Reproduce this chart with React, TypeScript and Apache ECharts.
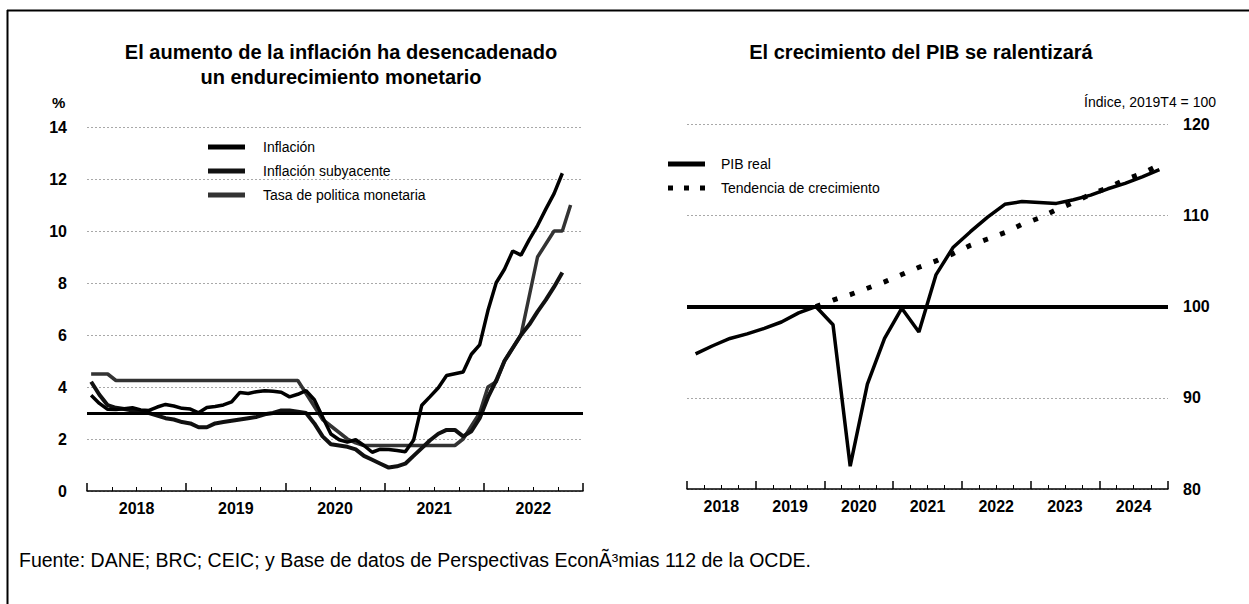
import React, { useEffect, useRef } from 'react';
import * as echarts from 'echarts';

// ---------- Data ----------
const yearsLeft = ['2018', '2019', '2020', '2021', '2022'];
const yearsRight = ['2018', '2019', '2020', '2021', '2022', '2023', '2024'];

// Monthly, from Jan 2018
const inflacion = [
  3.68, 3.37, 3.14, 3.13, 3.16, 3.2, 3.12, 3.1, 3.23, 3.33, 3.27, 3.18,
  3.15, 3.01, 3.21, 3.25, 3.31, 3.43, 3.79, 3.75, 3.82, 3.86, 3.84, 3.8,
  3.62, 3.72, 3.86, 3.51, 2.85, 2.19, 1.97, 1.88, 1.97, 1.75, 1.49, 1.61,
  1.6, 1.56, 1.51, 1.95, 3.3, 3.63, 3.97, 4.44, 4.51, 4.58, 5.26, 5.62,
  6.94, 8.01, 8.53, 9.23, 9.07, 9.67, 10.21, 10.84, 11.44, 12.22,
];
const subyacente = [
  4.2, 3.7, 3.3, 3.2, 3.15, 3.1, 3.05, 3.0, 2.9, 2.8, 2.75, 2.65,
  2.6, 2.45, 2.45, 2.6, 2.65, 2.7, 2.75, 2.8, 2.85, 2.95, 3.0, 3.1,
  3.1, 3.05, 3.0, 2.6, 2.1, 1.8, 1.75, 1.7, 1.6, 1.35, 1.2, 1.05,
  0.9, 0.95, 1.05, 1.35, 1.65, 1.95, 2.2, 2.35, 2.35, 2.1, 2.3, 2.8,
  3.6, 4.25, 5.0, 5.5, 6.0, 6.4, 6.9, 7.35, 7.85, 8.4,
];
const tasaPolitica = [
  4.5, 4.5, 4.5, 4.25, 4.25, 4.25, 4.25, 4.25, 4.25, 4.25, 4.25, 4.25,
  4.25, 4.25, 4.25, 4.25, 4.25, 4.25, 4.25, 4.25, 4.25, 4.25, 4.25, 4.25,
  4.25, 4.25, 3.75, 3.25, 2.75, 2.5, 2.25, 2.0, 1.85, 1.75, 1.75, 1.75,
  1.75, 1.75, 1.75, 1.75, 1.75, 1.75, 1.75, 1.75, 1.75, 2.0, 2.5, 3.0,
  4.0, 4.2, 5.0, 5.5, 6.0, 7.5, 9.0, 9.5, 10.0, 10.0, 11.0,
];
const metaInflacion = 3;

// Quarterly, from 2018T1
const pibReal = [
  94.8, 95.7, 96.5, 97.0,
  97.6, 98.3, 99.3, 100.0,
  98.0, 82.5, 91.5, 96.5,
  99.8, 97.2, 103.5, 106.5,
  108.2, 109.8, 111.2, 111.5,
  111.4, 111.3, 111.7, 112.2,
  112.9, 113.5, 114.2, 115.0,
];
// Quarterly, from 2019T4
const tendenciaStartQuarter = 7;
const tendencia = [
  100.0, 100.7, 101.3, 102.0, 102.7, 103.5, 104.3, 105.0, 105.8, 106.7,
  107.4, 108.1, 109.0, 109.7, 110.6, 111.4, 112.3, 113.0, 113.9, 114.6, 115.5,
];
const base100 = 100;

const FONT = "'Liberation Sans', Arial, Helvetica, sans-serif";
const DOTS_ICON = 'path://M0,0h5v5h-5z M16,0h5v5h-5z M32,0h5v5h-5z';

export default function App() {
  const ref = useRef<HTMLDivElement>(null);

  useEffect(() => {
    if (!ref.current) return;
    const chart = echarts.init(ref.current, undefined, { renderer: 'svg' });

    const monthly = (vals: number[]) => vals.map((v, i) => [i + 0.5, v]);
    const quarterly = (vals: number[], start = 0) => vals.map((v, i) => [i + start + 0.5, v]);

    const axisLabelStyle = {
      color: '#000',
      fontSize: 16,
      fontWeight: 'bold' as const,
      fontFamily: FONT,
    };
    const gridLine = { show: true, lineStyle: { color: '#a8a8a8', type: [2, 2] as any, width: 1 } };

    const option: any = {
      animation: false,
      backgroundColor: '#fff',
      title: [
        {
          text: 'El aumento de la inflación ha desencadenado\nun endurecimiento monetario',
          left: 336,
          top: 34,
          textAlign: 'center',
          textStyle: { fontSize: 20, fontWeight: 'bold', color: '#000', fontFamily: FONT, lineHeight: 25 },
        },
        {
          text: 'El crecimiento del PIB se ralentizará',
          left: 916,
          top: 34,
          textAlign: 'center',
          textStyle: { fontSize: 20, fontWeight: 'bold', color: '#000', fontFamily: FONT, lineHeight: 25 },
        },
        {
          text: 'Fuente: DANE; BRC; CEIC; y Base de datos de Perspectivas EconÃ³mias 112 de la OCDE.',
          left: 14,
          top: 545,
          textStyle: { fontSize: 19.5, fontWeight: 'normal', color: '#000', fontFamily: FONT },
        },
      ],
      legend: [
        {
          data: [
            { name: 'Inflación', icon: 'rect' },
            { name: 'Inflación subyacente', icon: 'rect' },
            { name: 'Tasa de politica monetaria', icon: 'rect' },
          ],
          orient: 'vertical',
          left: 203,
          top: 135,
          itemWidth: 37,
          itemHeight: 5,
          itemGap: 10,
          textStyle: { fontSize: 14, color: '#000', fontFamily: FONT, padding: [0, 0, 0, 13] },
        },
        {
          data: [
            { name: 'PIB real', icon: 'rect' },
            { name: 'Tendencia de crecimiento', icon: DOTS_ICON },
          ],
          orient: 'vertical',
          left: 663,
          top: 152,
          itemWidth: 37,
          itemHeight: 5,
          itemGap: 10,
          textStyle: { fontSize: 14, color: '#000', fontFamily: FONT, padding: [0, 0, 0, 11] },
        },
      ],
      grid: [
        { left: 87, top: 127, width: 496, height: 364 },
        { left: 687, top: 124, width: 481, height: 365 },
      ],
      xAxis: [
        {
          type: 'value',
          gridIndex: 0,
          min: 0,
          max: yearsLeft.length * 12,
          interval: 12,
          axisLine: { show: true, lineStyle: { color: '#000', width: 1.5 } },
          axisTick: { show: true, inside: true, length: 8, lineStyle: { color: '#000', width: 1.5 } },
          minorTick: { show: true, splitNumber: 4, length: 4, lineStyle: { color: '#000', width: 1 } },
          splitLine: { show: false },
          minorSplitLine: { show: false },
          axisLabel: {
            ...axisLabelStyle,
            margin: 9,
            customValues: yearsLeft.map((_, i) => i * 12 + 6),
            formatter: (v: number) => yearsLeft[Math.round((v - 6) / 12)] ?? '',
          },
        },
        {
          type: 'value',
          gridIndex: 1,
          min: 0,
          max: yearsRight.length * 4,
          interval: 4,
          axisLine: { show: true, lineStyle: { color: '#000', width: 1.5 } },
          axisTick: { show: true, inside: true, length: 8, lineStyle: { color: '#000', width: 1.5 } },
          minorTick: { show: true, splitNumber: 4, length: 4, lineStyle: { color: '#000', width: 1 } },
          splitLine: { show: false },
          minorSplitLine: { show: false },
          axisLabel: {
            ...axisLabelStyle,
            margin: 9,
            customValues: yearsRight.map((_, i) => i * 4 + 2),
            formatter: (v: number) => yearsRight[Math.round((v - 2) / 4)] ?? '',
          },
        },
      ],
      yAxis: [
        {
          type: 'value',
          gridIndex: 0,
          min: 0,
          max: 14,
          interval: 2,
          axisLine: { show: false },
          axisTick: { show: false },
          splitLine: gridLine,
          axisLabel: { ...axisLabelStyle, margin: 20 },
        },
        {
          type: 'value',
          gridIndex: 1,
          position: 'right',
          min: 80,
          max: 120,
          interval: 10,
          axisLine: { show: false },
          axisTick: { show: false },
          splitLine: gridLine,
          axisLabel: { ...axisLabelStyle, margin: 15 },
        },
      ],
      series: [
        {
          name: 'Tasa de politica monetaria',
          type: 'line',
          xAxisIndex: 0,
          yAxisIndex: 0,
          data: monthly(tasaPolitica),
          symbol: 'none',
          lineStyle: { color: '#333', width: 3.5 },
          itemStyle: { color: '#333' },
        },
        {
          name: 'Inflación subyacente',
          type: 'line',
          xAxisIndex: 0,
          yAxisIndex: 0,
          data: monthly(subyacente),
          symbol: 'none',
          lineStyle: { color: '#111', width: 4 },
          itemStyle: { color: '#111' },
        },
        {
          name: 'Inflación',
          type: 'line',
          xAxisIndex: 0,
          yAxisIndex: 0,
          data: monthly(inflacion),
          symbol: 'none',
          lineStyle: { color: '#000', width: 3.5 },
          itemStyle: { color: '#000' },
          markLine: {
            silent: true,
            symbol: 'none',
            label: { show: false },
            lineStyle: { color: '#000', width: 3, type: 'solid' },
            data: [{ yAxis: metaInflacion }],
          },
        },
        {
          name: 'Tendencia de crecimiento',
          type: 'line',
          xAxisIndex: 1,
          yAxisIndex: 1,
          data: quarterly(tendencia, tendenciaStartQuarter),
          symbol: 'none',
          lineStyle: { color: '#000', width: 5, type: [5, 13], cap: 'butt' },
          itemStyle: { color: '#000' },
        },
        {
          name: 'PIB real',
          type: 'line',
          xAxisIndex: 1,
          yAxisIndex: 1,
          data: quarterly(pibReal),
          symbol: 'none',
          lineStyle: { color: '#000', width: 3.5 },
          itemStyle: { color: '#000' },
          markLine: {
            silent: true,
            symbol: 'none',
            label: { show: false },
            lineStyle: { color: '#000', width: 4, type: 'solid' },
            data: [{ yAxis: base100 }],
          },
        },
      ],
      graphic: [
        {
          type: 'text',
          left: 52,
          top: 95,
          style: { text: '%', fontSize: 15, fontWeight: 'bold', fill: '#000', fontFamily: FONT },
        },
        {
          type: 'text',
          right: 33,
          top: 95,
          style: { text: 'Índice, 2019T4 = 100', fontSize: 14, fill: '#000', fontFamily: FONT },
        },
        {
          type: 'line',
          shape: { x1: 7.5, y1: 10, x2: 7.5, y2: 604 },
          style: { stroke: '#000', lineWidth: 2 },
        },
        {
          type: 'line',
          shape: { x1: 7, y1: 10.5, x2: 1249, y2: 10.5 },
          style: { stroke: '#000', lineWidth: 2 },
        },
      ],
    };

    chart.setOption(option);
    return () => chart.dispose();
  }, []);

  return (
    <div
      ref={ref}
      style={{ position: 'absolute', left: 0, top: 0, width: 1249, height: 604, background: '#fff' }}
    />
  );
}
